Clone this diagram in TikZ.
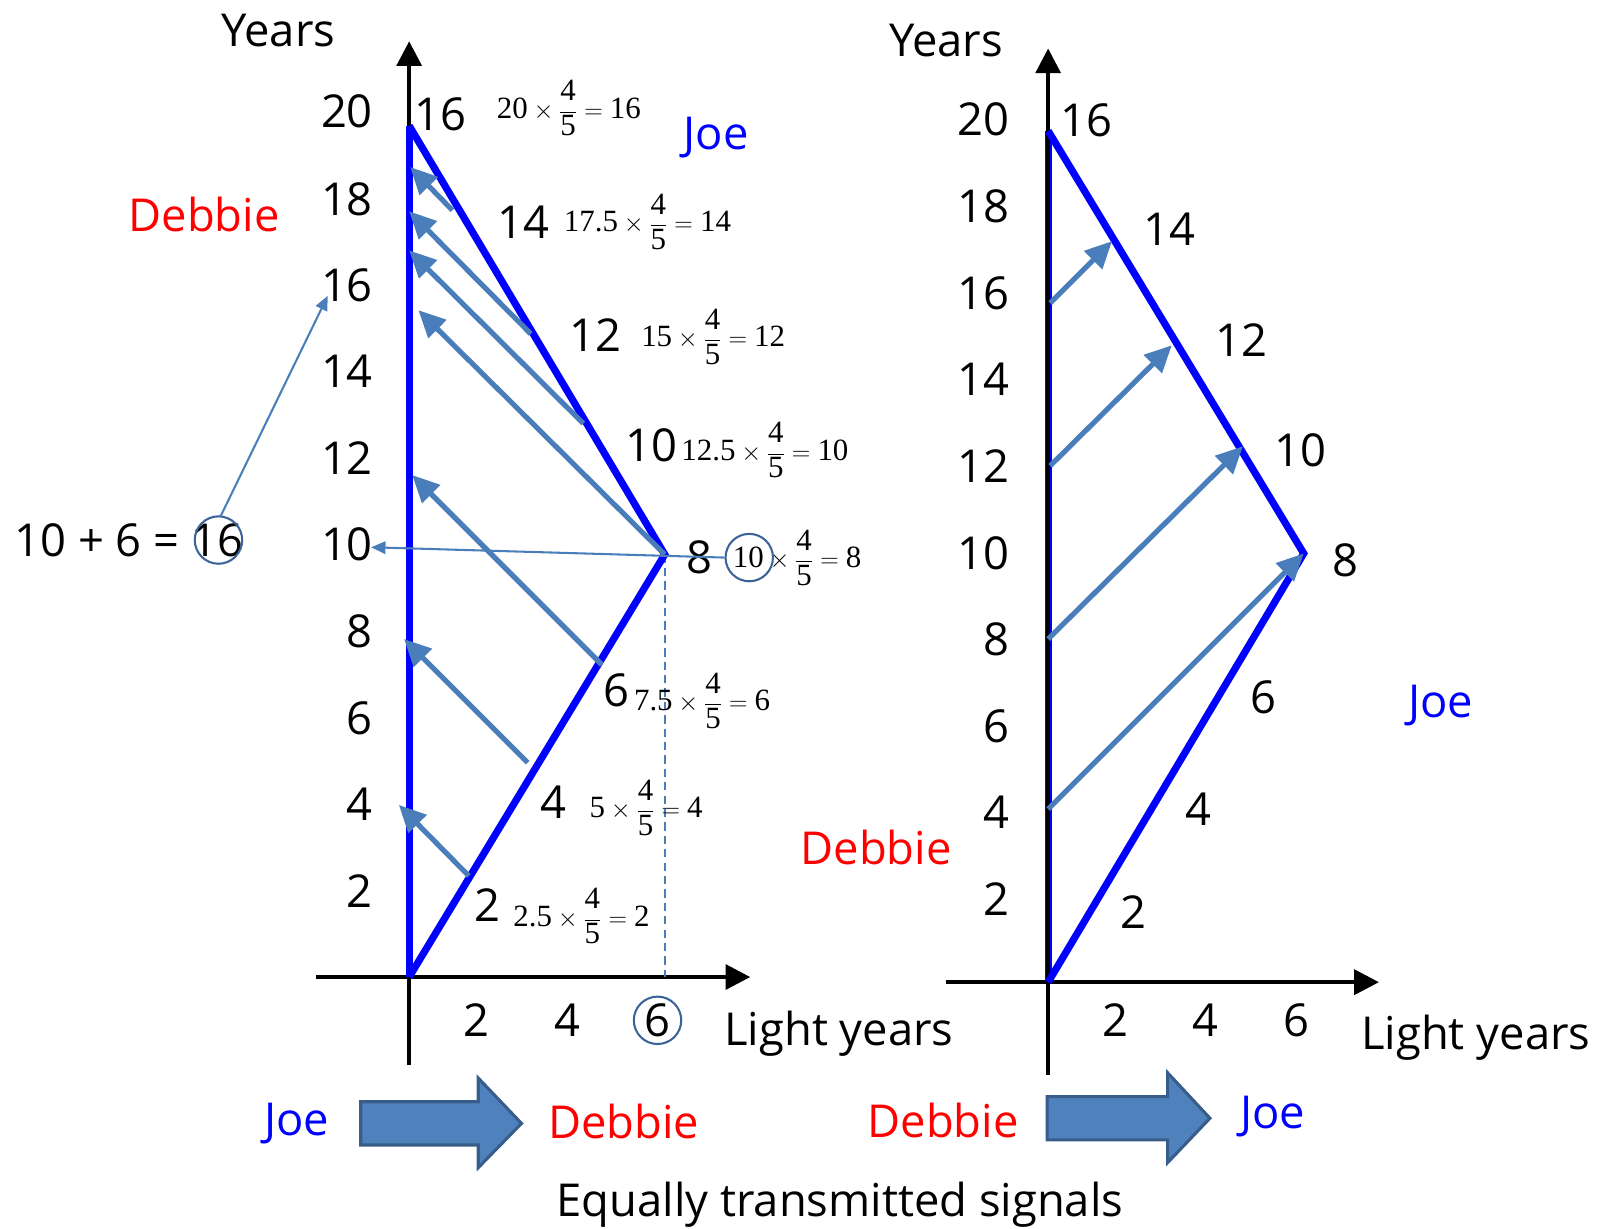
\documentclass[tikz,border=0pt]{standalone}
\usepackage{fontspec}
\newfontfamily\comic{Open Sans}
\newfontfamily\tnr{Liberation Serif}
\newcommand{\tn}[1]{\mbox{\tnr #1}}
\usetikzlibrary{arrows.meta}
\definecolor{sig}{HTML}{4A7EBB}
\definecolor{ringc}{HTML}{3B6396}
\definecolor{blk}{HTML}{4F81BD}
\definecolor{blkedge}{HTML}{385D8A}
\definecolor{pblue}{HTML}{0000FF}
\definecolor{pred}{HTML}{FF0000}
\begin{document}
\begin{tikzpicture}[x=1pt,y=-1pt,
 lbl/.style={inner sep=0pt, font=\comic\fontsize{44}{50}\selectfont},
 ylbl/.style={lbl, anchor=east},
 fml/.style={inner sep=0pt, anchor=west, font=\fontsize{30}{33}\selectfont},
 axisline/.style={line width=4pt, -{Triangle[length=24pt,width=24pt]}},
 worldline/.style={draw=pblue, line width=7pt, line join=miter},
 signal/.style={draw=sig, line width=5pt, -{Triangle[length=26pt,width=24pt]}},
 pointer/.style={draw=sig, line width=2pt, -{Triangle[length=14pt,width=12pt]}},
 ring/.style={circle, draw=ringc, line width=2pt, minimum size=46pt, inner sep=0pt},
 bigarrow/.style={fill=blk, draw=blkedge, line width=3pt, line join=miter},
 joename/.style={lbl, text=pblue},
 debname/.style={lbl, text=pred}]
\useasboundingbox (0,0) rectangle (1568,1192);

% ---------------- LEFT DIAGRAM ----------------
\coordinate (LO) at (397,948);
\coordinate (LT) at (397,122);
\coordinate (LV) at (645,538);
\coordinate (LYb) at (397,1033);
\coordinate (LYt) at (397,40);
\coordinate (LXl) at (307,948);
\coordinate (LXr) at (728,948);
\coordinate (LVf) at (645,948);

\draw[axisline] (LYb) -- (LYt);
\draw[axisline] (LXl) -- (LXr);
\draw[sig, line width=2pt, dash pattern=on 8pt off 5pt] (LV) -- (LVf);
\draw[worldline] (LO) -- (LT);
\draw[worldline] (LO) -- (LV) -- (LT);

% signals Joe -> Debbie
\coordinate (a1s) at (455,850); \coordinate (a1e) at (387,781);
\coordinate (a2s) at (512,740); \coordinate (a2e) at (392,620);
\coordinate (a3s) at (584,645); \coordinate (a3e) at (400,461);
\coordinate (a4e) at (406,301);
\coordinate (a5s) at (566,411); \coordinate (a5e) at (397,243);
\coordinate (a6s) at (515,324); \coordinate (a6e) at (397,205);
\coordinate (a7s) at (439,204); \coordinate (a7e) at (398,162);
\draw[signal] (a1s) -- (a1e);
\draw[signal] (a2s) -- (a2e);
\draw[signal] (a3s) -- (a3e);
\draw[signal] (LV) -- (a4e);
\draw[signal] (a5s) -- (a5e);
\draw[signal] (a6s) -- (a6e);
\draw[signal] (a7s) -- (a7e);

% axis labels
\node[lbl, anchor=base] (lyears) at (270,45) {Years};
\node[ylbl] (ly20) at (362,108) {20};
\node[ylbl] (ly18) at (362,193) {18};
\node[ylbl] (ly16) at (362,277) {16};
\node[ylbl] (ly14) at (362,360) {14};
\node[ylbl] (ly12) at (362,444) {12};
\node[ylbl] (ly10) at (362,528) {10};
\node[ylbl] (ly8) at (362,613) {8};
\node[ylbl] (ly6) at (362,697) {6};
\node[ylbl] (ly4) at (362,780) {4};
\node[ylbl] (ly2) at (362,865) {2};
\node[lbl] (lx2) at (462,990) {2};
\node[lbl] (lx4) at (551,990) {4};
\node[lbl] (lx6) at (638,990) {6};
\node[lbl, anchor=base] (llight) at (814,1014) {Light years};

\node[debname] (ldeb) at (198,208) {Debbie};
\node[joename] (ljoe) at (695,133) {Joe};

% formulas
\node[fml] (f1) at (482,105) {$\displaystyle \tn{20}\times\frac{\tn{4}}{\tn{5}}=\tn{16}$};
\node[fml] (f2) at (547,215) {$\displaystyle \tn{17.5}\times\frac{\tn{4}}{\tn{5}}=\tn{14}$};
\node[fml] (f3) at (622,327) {$\displaystyle \tn{15}\times\frac{\tn{4}}{\tn{5}}=\tn{12}$};
\node[fml] (f4) at (661,437) {$\displaystyle \tn{12.5}\times\frac{\tn{4}}{\tn{5}}=\tn{10}$};
\node[fml] (f5) at (711,541) {$\displaystyle \tn{10}\times\frac{\tn{4}}{\tn{5}}=\tn{8}$};
\node[fml] (f6) at (615,680) {$\displaystyle \tn{7.5}\times\frac{\tn{4}}{\tn{5}}=\tn{6}$};
\node[fml] (f7) at (572,784) {$\displaystyle \tn{5}\times\frac{\tn{4}}{\tn{5}}=\tn{4}$};
\node[fml] (f8) at (498,889) {$\displaystyle \tn{2.5}\times\frac{\tn{4}}{\tn{5}}=\tn{2}$};

% Joe's clock readings
\node[lbl] (lj16) at (427,111) {16};
\node[lbl] (lj14) at (508,216) {14};
\node[lbl] (lj12) at (578,325) {12};
\node[lbl] (lj10) at (632,432) {10};
\node[lbl] (lj8) at (679,541) {8};
\node[lbl] (lj6) at (598,670) {6};
\node[lbl] (lj4) at (537,778) {4};
\node[lbl] (lj2) at (473,878) {2};

% sum and rings
\node[lbl] (sum) at (125,524) {10 + 6 = 16};
\node[ring] (c16) at (212,524) {};
\node[ring] (c10) at (727,541) {};
\node[ring] (c6) at (638,990) {};
\coordinate (p1e) at (360,531);
\coordinate (p2s) at (214,501);
\coordinate (p2e) at (318,287);
\draw[pointer] (c10.west) -- (p1e);
\draw[pointer] (p2s) -- (p2e);

% bottom
\node[joename] (bjoe1) at (288,1090) {Joe};
\draw[bigarrow] (350,1069) -- (464,1069) -- (464,1046) -- (506,1090) -- (464,1133) -- (464,1111) -- (350,1111) -- cycle;
\node[debname] (bdeb1) at (605,1088) {Debbie};

% ---------------- RIGHT DIAGRAM ----------------
\coordinate (RO) at (1017,953);
\coordinate (RT) at (1017,127);
\coordinate (RV) at (1265,537);
\coordinate (RYb) at (1017,1043);
\coordinate (RYt) at (1017,47);
\coordinate (RXl) at (918,953);
\coordinate (RXr) at (1338,953);

\draw[worldline] (RO) -- (RT);
\draw[axisline] (RYb) -- (RYt);
\draw[axisline] (RXl) -- (RXr);
\draw[worldline] (RO) -- (RV) -- (RT);

\coordinate (r1s) at (1017,785);
\coordinate (r2s) at (1017,620); \coordinate (r2e) at (1206,433);
\coordinate (r3s) at (1019,452); \coordinate (r3e) at (1137,335);
\coordinate (r4s) at (1019,294); \coordinate (r4e) at (1079,234);
\draw[signal] (r1s) -- (RV);
\draw[signal] (r2s) -- (r2e);
\draw[signal] (r3s) -- (r3e);
\draw[signal] (r4s) -- (r4e);

\node[lbl, anchor=base] (ryears) at (918,55) {Years};
\node[ylbl] (ry20) at (980,116) {20};
\node[ylbl] (ry18) at (980,200) {18};
\node[ylbl] (ry16) at (980,285) {16};
\node[ylbl] (ry14) at (980,368) {14};
\node[ylbl] (ry12) at (980,452) {12};
\node[ylbl] (ry10) at (980,537) {10};
\node[ylbl] (ry8) at (980,620) {8};
\node[ylbl] (ry6) at (980,705) {6};
\node[ylbl] (ry4) at (980,788) {4};
\node[ylbl] (ry2) at (980,872) {2};
\node[lbl] (rx2) at (1082,990) {2};
\node[lbl] (rx4) at (1170,990) {4};
\node[lbl] (rx6) at (1258,990) {6};
\node[lbl, anchor=base] (rlight) at (1432,1018) {Light years};

\node[lbl] (rj16) at (1054,117) {16};
\node[lbl] (rj14) at (1135,222) {14};
\node[lbl] (rj12) at (1205,330) {12};
\node[lbl] (rj10) at (1262,437) {10};
\node[lbl] (rj8) at (1305,544) {8};
\node[lbl] (rj6) at (1226,677) {6};
\node[lbl] (rj4) at (1163,785) {4};
\node[lbl] (rj2) at (1100,885) {2};

\node[joename] (rjoe) at (1398,685) {Joe};
\node[debname] (rdeb) at (850,822) {Debbie};

\node[debname] (bdeb2) at (915,1087) {Debbie};
\draw[bigarrow] (1016,1064) -- (1133,1064) -- (1133,1041) -- (1174,1085) -- (1133,1128) -- (1133,1106) -- (1016,1106) -- cycle;
\node[joename] (bjoe2) at (1235,1083) {Joe};

\node[lbl, anchor=base] (caption) at (815,1180) {Equally transmitted signals};
\end{tikzpicture}
\end{document}
